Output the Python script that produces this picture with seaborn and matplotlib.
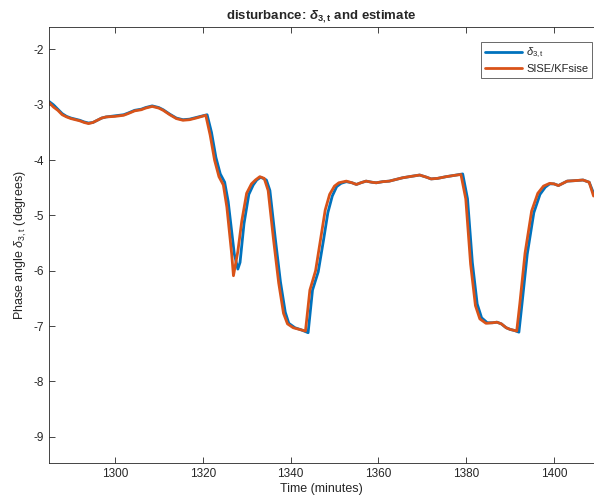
import matplotlib
matplotlib.use("Agg")
import matplotlib.pyplot as plt
import pandas as pd
import seaborn as sns

# true disturbance
t_true = [1285, 1286, 1287, 1288, 1289, 1290, 1291, 1292, 1293, 1294, 1295, 1296, 1297, 1298,
          1300, 1302, 1303, 1304.5, 1306, 1307, 1308.5, 1310, 1311, 1312.5, 1314, 1315.5, 1317,
          1318.5, 1320, 1321, 1322, 1323, 1324, 1325, 1325.8, 1327.2, 1328, 1328.5, 1329.4,
          1330.5, 1331.5, 1332.3, 1333.2, 1334.5, 1335.3, 1336.5, 1337.7, 1338.8, 1339.6, 1341,
          1342.5, 1344, 1345, 1346.3, 1347.5, 1348.5, 1349.5, 1350.5, 1351.5, 1352.7, 1354, 1355,
          1356, 1357.2, 1358.5, 1359.5, 1361, 1362.5, 1364, 1365.5, 1367, 1369.4, 1371, 1372,
          1373.5, 1375.4, 1377, 1379.2, 1380.3, 1381.4, 1382.5, 1383.5, 1384.8, 1386, 1387, 1388,
          1389.1, 1390, 1391, 1392, 1392.7, 1393.9, 1395.4, 1396.8, 1398, 1399, 1400, 1401, 1402,
          1403, 1405, 1406.6, 1408, 1409]
d_true = [-2.94, -3.00, -3.08, -3.16, -3.21, -3.24, -3.26, -3.28, -3.31, -3.33, -3.32, -3.28, -3.24, -3.22,
          -3.20, -3.18, -3.15, -3.10, -3.08, -3.05, -3.02, -3.05, -3.09, -3.17, -3.24, -3.27, -3.26,
          -3.23, -3.20, -3.18, -3.50, -3.95, -4.25, -4.40, -4.75, -5.70, -5.97, -5.85, -5.15,
          -4.62, -4.45, -4.36, -4.31, -4.36, -4.55, -5.40, -6.20, -6.75, -6.95, -7.03,
          -7.07, -7.12, -6.35, -6.02, -5.45, -4.95, -4.65, -4.48, -4.42, -4.39, -4.41, -4.44,
          -4.41, -4.38, -4.40, -4.41, -4.39, -4.38, -4.35, -4.32, -4.30, -4.27, -4.31, -4.34,
          -4.33, -4.30, -4.28, -4.25, -4.70, -5.85, -6.60, -6.85, -6.94, -6.94, -6.93, -6.96,
          -7.03, -7.06, -7.08, -7.11, -6.60, -5.70, -4.95, -4.62, -4.49, -4.43, -4.43, -4.46, -4.42,
          -4.38, -4.37, -4.36, -4.40, -4.60]

# SISE/KFsise estimate
t_est = [1285, 1286, 1287, 1288, 1289, 1290, 1291, 1292, 1293, 1294, 1295, 1296, 1297, 1298,
         1300, 1302, 1303, 1304.5, 1306, 1307, 1308.5, 1310, 1311, 1312.5, 1314, 1315.5, 1317,
         1318.5, 1320.7, 1321.7, 1322.7, 1323.7, 1324.7, 1325.5, 1326.6, 1327, 1328.0, 1328.9,
         1330.0, 1331.1, 1332, 1333, 1334, 1334.9, 1336.1, 1337.3, 1338.4, 1339.3, 1340.6, 1342,
         1343.4, 1344.4, 1345.7, 1346.9, 1347.9, 1348.9, 1350, 1351, 1352.7, 1354, 1355,
         1356, 1357.2, 1358.5, 1359.5, 1361, 1362.5, 1364, 1365.5, 1367, 1369.4, 1371, 1372,
         1373.5, 1375.4, 1377, 1378.8, 1379.9, 1381.0, 1382.1, 1383.1, 1384.5, 1386, 1387, 1388,
         1389.1, 1390, 1391.5, 1392.2, 1393.4, 1394.9, 1396.3, 1397.6, 1399, 1400, 1401, 1402,
         1403, 1405, 1406.6, 1408, 1409]
d_est = [-2.96, -3.04, -3.10, -3.18, -3.22, -3.25, -3.27, -3.29, -3.32, -3.34, -3.32, -3.28, -3.24, -3.22,
         -3.21, -3.19, -3.16, -3.11, -3.09, -3.06, -3.03, -3.06, -3.10, -3.18, -3.25, -3.28, -3.27,
         -3.24, -3.19, -3.55, -4.00, -4.30, -4.45, -4.85, -5.70, -6.09, -5.65, -5.10,
         -4.60, -4.43, -4.36, -4.30, -4.33, -4.55, -5.42, -6.22, -6.77, -6.96, -7.03, -7.06,
         -7.09, -6.35, -6.00, -5.40, -4.90, -4.62, -4.47, -4.41, -4.38, -4.41, -4.44,
         -4.41, -4.38, -4.40, -4.41, -4.39, -4.38, -4.35, -4.32, -4.30, -4.27, -4.31, -4.34,
         -4.33, -4.30, -4.28, -4.26, -4.70, -5.88, -6.63, -6.87, -6.95, -6.94, -6.93, -6.96,
         -7.03, -7.06, -7.09, -6.60, -5.68, -4.92, -4.60, -4.47, -4.42, -4.43, -4.46, -4.42,
         -4.38, -4.37, -4.36, -4.40, -4.65]

x_ticks = [1300, 1320, 1340, 1360, 1380, 1400]
y_ticks = [-9, -8, -7, -6, -5, -4, -3, -2]

sns.set_style("ticks")
plt.rcParams['font.family'] = ['Liberation Sans', 'DejaVu Sans']
plt.rcParams['axes.unicode_minus'] = False
plt.rcParams['mathtext.fontset'] = 'custom'
plt.rcParams['mathtext.rm'] = 'Liberation Sans'
plt.rcParams['mathtext.it'] = 'Liberation Sans:italic'
plt.rcParams['mathtext.bf'] = 'Liberation Sans:bold'
plt.rcParams['mathtext.bfit'] = 'Liberation Sans:bold:italic'

df_true = pd.DataFrame({'t': t_true, 'd': d_true})
df_est = pd.DataFrame({'t': t_est, 'd': d_est})

fig = plt.figure(figsize=(5.94, 5.04), dpi=100)
ax = fig.add_axes([0.0825, 0.0808, 0.9175, 0.865])

sns.lineplot(data=df_true, x='t', y='d', sort=False, estimator=None, color='#0072BD',
             linewidth=2.0, label=r'$\delta_{\mathrm{3,t}}$', ax=ax)
sns.lineplot(data=df_est, x='t', y='d', sort=False, estimator=None, color='#D95319',
             linewidth=2.0, label='SISE/KFsise', ax=ax)

ax.set_xlim(1285, 1409.1)
ax.set_ylim(-9.48, -1.6)
ax.set_xticks(x_ticks)
ax.set_yticks(y_ticks)
ax.tick_params(direction='in', length=4, width=0.6, colors='#262626', labelsize=8.5,
               top=True, right=False)
for side in ['left', 'bottom', 'top']:
    ax.spines[side].set_color('#262626')
    ax.spines[side].set_linewidth(0.6)
ax.spines['right'].set_visible(False)

ax.set_xlabel('Time (minutes)', fontsize=9, color='#262626', labelpad=2)
ax.set_ylabel(r'Phase angle $\delta_{\mathrm{3,t}}$ (degrees)', fontsize=9, color='#262626', labelpad=3)
ax.set_title(r'disturbance: $\boldsymbol{\delta}_{\mathbf{3,t}}$ and estimate', fontsize=9.5,
             fontweight='bold', pad=6)

leg = ax.legend(loc='upper right', bbox_to_anchor=(0.997, 0.966), fontsize=8, frameon=True,
                fancybox=False, handlelength=3.3, borderpad=0.35, labelspacing=0.3,
                handletextpad=0.4, borderaxespad=0)
leg.get_frame().set_edgecolor('#262626')
leg.get_frame().set_linewidth(0.6)

fig.savefig('out.png', dpi=100)
